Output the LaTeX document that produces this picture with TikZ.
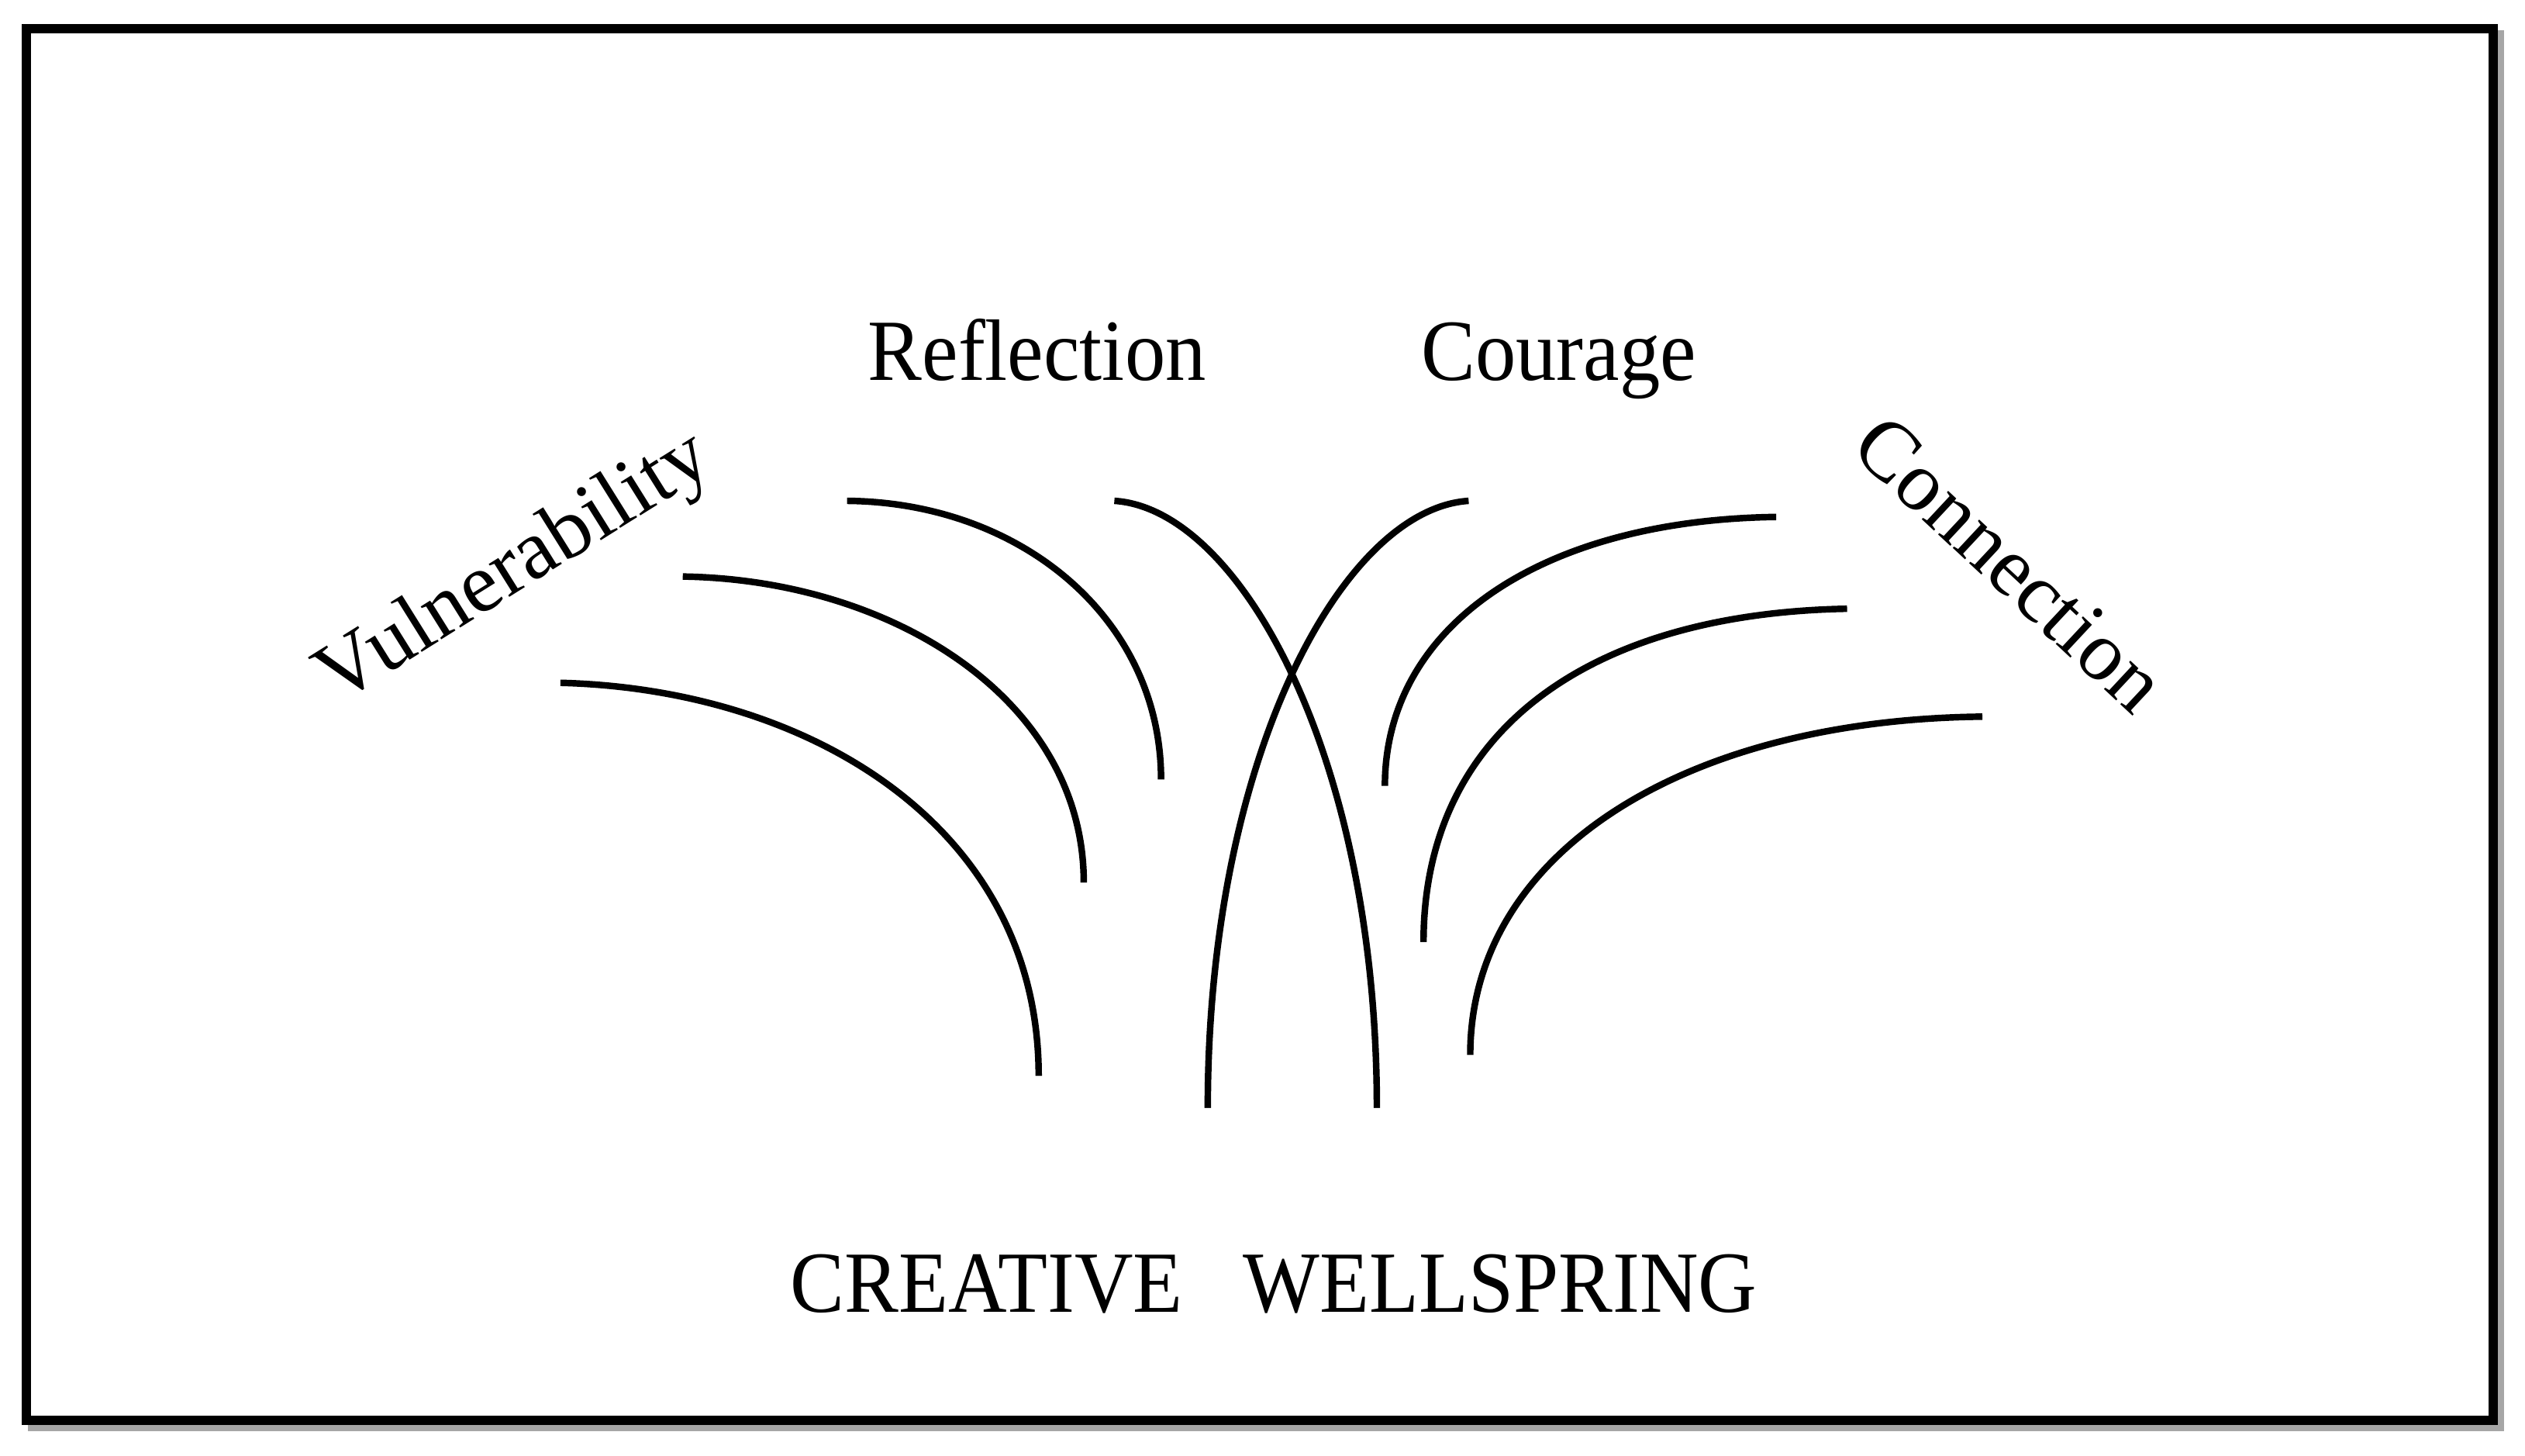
\documentclass[tikz,border=0pt]{standalone}
\usepackage{fontspec}
\setmainfont{Liberation Serif}
\usepackage{tikz}

\newcommand{\definitions}{%
  % color of the frame shadow
  \colorlet{colShadow}{black!35}

  % corners of the frame
  \coordinate (fA) at (16.4, 17.8);
  \coordinate (fB) at (1548.3, 882.0);

  % strands on the left side, outer to inner
  \def\strandLa{(348,424) .. controls (505,428) and (645,515) .. (645,668)}
  \def\strandLb{(424,358) .. controls (555,360) and (673,435) .. (673,548)}
  \def\strandLc{(526,311) .. controls (635,312) and (721,385) .. (721,484)}
  % the two crossing strands in the middle
  \def\strandMa{(692,311) .. controls (770,316) and (855,470) .. (855,688)}
  \def\strandMb{(912,311) .. controls (834,316) and (750,470) .. (750,688)}
  % strands on the right side, inner to outer
  \def\strandRa{(1103,321) .. controls (955,323) and (860,390) .. (860,488)}
  \def\strandRb{(1147,378) .. controls (985,381) and (884,455) .. (884,585)}
  \def\strandRc{(1231,445) .. controls (1045,447) and (913,530) .. (913,655)}
}

\tikzset{
  strand/.style={line width=2.4pt},
  wordlabel/.style={font=\fontsize{32}{38}\selectfont, inner sep=0pt, xscale=0.93},
  tiltlabel/.style={font=\fontsize{31}{37}\selectfont, inner sep=0pt}
}

\begin{document}
\begin{tikzpicture}[x=0.020772cm, y=-0.020772cm]

  % define colors, frame and strands
  \definitions
  \useasboundingbox (0,0) rectangle (1568,904);

  % frame with a light shadow
  \draw[colShadow, line width=3.4pt] ([shift={(4,4)}]fA) rectangle ([shift={(4,4)}]fB);
  \draw[line width=3.4pt, fill=white] (fA) rectangle (fB);

  % draw strands
  \draw[strand] \strandLa;
  \draw[strand] \strandLb;
  \draw[strand] \strandLc;
  \draw[strand] \strandMa;
  \draw[strand] \strandMb;
  \draw[strand] \strandRa;
  \draw[strand] \strandRb;
  \draw[strand] \strandRc;

  % add a word for each group of strands
  \node[wordlabel, anchor=base] (refl) at (644, 236) {Reflection};
  \node[wordlabel, anchor=base] (cour) at (968, 236) {Courage};
  \node[tiltlabel, rotate=32] (vuln) at (320, 354) {Vulnerability};
  \node[tiltlabel, rotate=-43] (conn) at (1248, 350) {Connection};

  % name of the source
  \node[wordlabel, anchor=base] (well) at (791, 815) {CREATIVE\ \ \ WELLSPRING};

\end{tikzpicture}
\end{document}
